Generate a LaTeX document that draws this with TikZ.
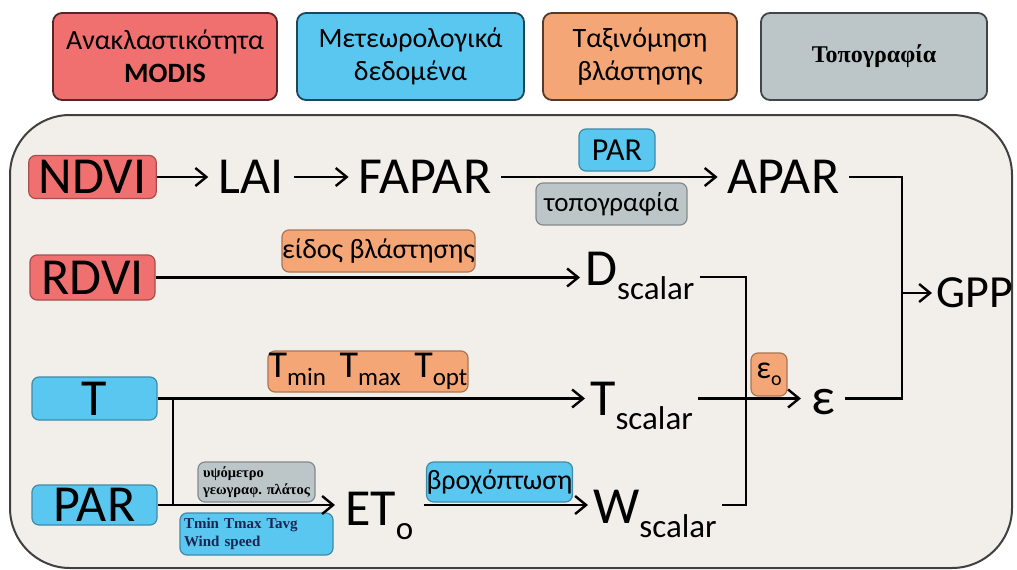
\documentclass[tikz,border=0pt]{standalone}
\usepackage{fontspec}
\setmainfont{Carlito}
\newfontfamily\tnr{Liberation Serif}
\usetikzlibrary{arrows.meta,positioning}

\definecolor{modisred}{HTML}{F07070}
\definecolor{meteoblue}{HTML}{59C7F0}
\definecolor{vegorange}{HTML}{F4A676}
\definecolor{topogray}{HTML}{BCC5C8}
\definecolor{panelbg}{HTML}{F2EFEA}
\definecolor{navytxt}{HTML}{1B2552}

\newcommand{\lowsub}[1]{\raisebox{-14pt}{\fontsize{33}{36}\selectfont #1}}
\newcommand{\smallsub}[1]{\raisebox{-8pt}{\fontsize{25}{28}\selectfont #1}}

\begin{document}
\begin{tikzpicture}[x=1pt,y=-1pt,
  srcbox/.style={draw=#1!35!black, fill=#1, rounded corners=9pt, line width=1.8pt,
    align=center, font=\fontsize{28}{33}\selectfont, inner sep=0pt,
    minimum height=87pt},
  lblbox/.style={draw=#1!70!black, fill=#1, rounded corners=7pt, line width=1.2pt,
    inner sep=0pt},
  bigtxt/.style={font=\fontsize{52}{60}\selectfont, inner xsep=10pt, inner ysep=0pt},
  flow/.style={line width=2.4pt},
  arr/.style={flow, -{Straight Barb[length=11pt,width=18pt]}}]
  \useasboundingbox (0,0) rectangle (1017,570);

  \node[srcbox=modisred, minimum width=224pt] (modis) at (165,56.5) {Ανακλαστικότητα\\\textbf{MODIS}};
  \node[srcbox=meteoblue, minimum width=227pt] (meteo) at (410.5,56.5) {Μετεωρολογικά\\δεδομένα};
  \node[srcbox=vegorange, minimum width=194pt] (veg) at (640,56.5) {Ταξινόμηση\\βλάστησης};
  \node[srcbox=topogray, minimum width=226pt, font=\tnr\bfseries\fontsize{24}{28}\selectfont] (topo) at (874,56.5) {Τοπογραφία};

  \draw[line width=2pt, draw=black!75, fill=panelbg, rounded corners=60pt] (10,115) rectangle (1012,568);

  \node[lblbox=modisred, bigtxt, minimum width=125pt, minimum height=43pt] (ndvi) at (92.5,177) {NDVI};
  \node[lblbox=modisred, bigtxt, minimum width=125pt, minimum height=45pt] (rdvi) at (92.5,277.5) {RDVI};
  \node[lblbox=meteoblue, bigtxt, minimum width=125pt, minimum height=43pt] (t) at (94.5,398.5) {T};
  \node[lblbox=meteoblue, bigtxt, minimum width=125pt, minimum height=40pt] (par) at (94.5,505) {PAR};

  \node[bigtxt] (lai) at (251,177) {LAI};
  \node[bigtxt] (fapar) at (425,177) {FAPAR};
  \node[bigtxt] (apar) at (783.5,177) {APAR};
  \node[bigtxt, anchor=west, font=\fontsize{46}{52}\selectfont, inner xsep=4pt] (gpp) at (932,293) {GPP};
  \node[bigtxt, anchor=base west, inner xsep=5pt] (dscalar) at (580,285) {D\lowsub{scalar}};
  \node[bigtxt, anchor=base west, inner xsep=5pt] (tscalar) at (585,415) {T\lowsub{scalar}};
  \node[bigtxt, anchor=base west, inner xsep=5pt] (wscalar) at (588,523) {W\lowsub{scalar}};
  \node[bigtxt, anchor=base west] (eto) at (335,525) {ET\lowsub{o}};
  \node[bigtxt] (eps) at (823,402) {ε};

  \node[lblbox=meteoblue, font=\fontsize{32}{36}\selectfont, minimum width=76pt, minimum height=42pt] (parlbl) at (617,150) {PAR};
  \node[lblbox=topogray, font=\fontsize{27}{30}\selectfont, minimum width=151pt, minimum height=42pt] (topolbl) at (611.5,204) {τοπογραφία};
  \node[lblbox=vegorange, font=\fontsize{28}{32}\selectfont, minimum width=193pt, minimum height=42pt] (veglbl) at (378.5,251) {είδος βλάστησης};
  \node[lblbox=vegorange, font=\fontsize{38}{42}\selectfont, minimum width=200pt, minimum height=41pt] (tlims) at (368,371.5) {T\smallsub{min}\hspace{5pt} T\smallsub{max}\hspace{5pt} T\smallsub{opt}};
  \node[lblbox=vegorange, font=\fontsize{32}{34}\selectfont, minimum width=36pt, minimum height=43pt] (eps0) at (769,374.5) {ε\raisebox{-7pt}{\fontsize{20}{22}\selectfont o}};
  \node[lblbox=meteoblue, font=\fontsize{28}{32}\selectfont, minimum width=135pt, minimum height=40pt] (rain) at (499.5,482) {βροχόπτωση};
  \node[lblbox=topogray, font=\tnr\bfseries\fontsize{14.5}{17}\selectfont, align=left, inner xsep=2pt, minimum width=117pt, minimum height=40pt] (elev) at (256.5,482) {υψόμετρο\\γεωγραφ. πλάτος};
  \node[lblbox=meteoblue, font=\tnr\bfseries\fontsize{15}{18}\selectfont, text=navytxt, align=left, text width=145pt, inner xsep=4pt, minimum height=42pt] (wx) at (256.5,534) {Tmin Tmax Tavg\\Wind speed};

  \coordinate (jg) at (902,293);
  \coordinate (jd) at (746,277);
  \coordinate (jw) at (746,505);
  \coordinate (jt) at (173,398.5);

  \draw[arr] (ndvi) -- (lai);
  \draw[arr] (lai) -- (fapar);
  \draw[arr] (fapar) -- (apar);
  \draw[flow] (apar.east) -| (jg);
  \draw[arr] (jg) -- (gpp);
  \draw[arr] (rdvi) -- (rdvi -| dscalar.west);
  \draw[flow] (dscalar.east |- jd) -- (jd) -- (jw) -- (wscalar.east |- jw);
  \draw[arr] (t) -- (t -| tscalar.west);
  \draw[arr] (tscalar.east |- t) -- (eps.west |- t);
  \draw[flow] (eps.east |- t) -| (jg);
  \draw[flow] (jt) -- (jt |- par);
  \draw[arr] (par) -- (par -| eto.west);
  \draw[arr] (eto.east |- par) -- (wscalar.west |- par);
\end{tikzpicture}
\end{document}
